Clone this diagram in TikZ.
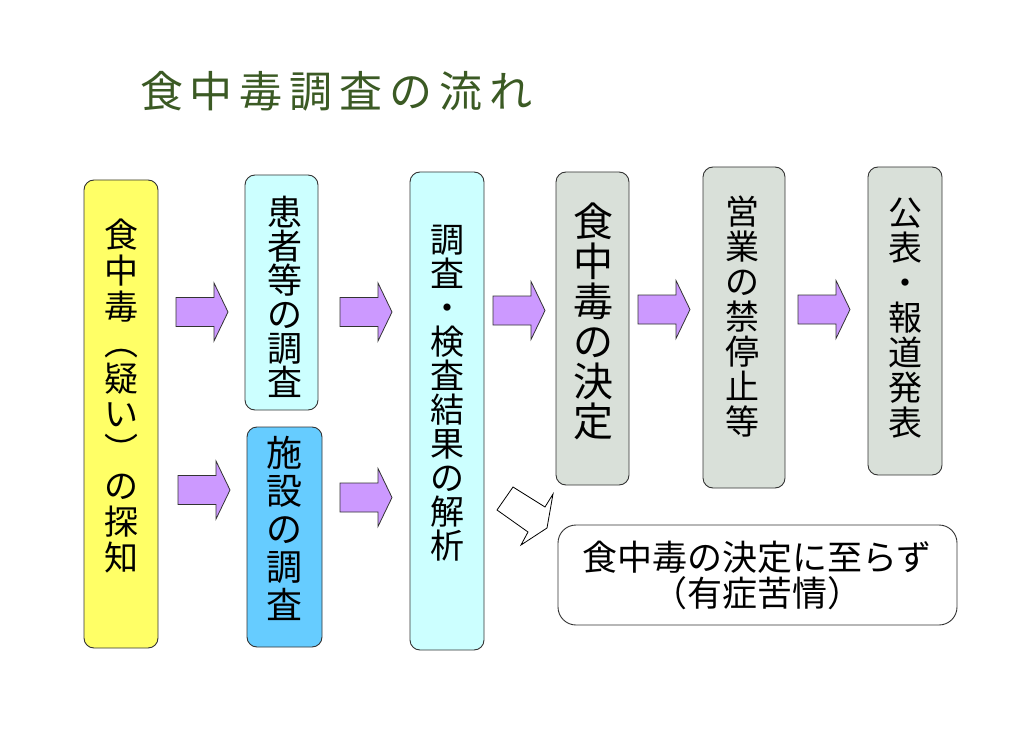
\documentclass[tikz,border=0pt]{standalone}
\usepackage{fontspec}
\newfontfamily\jp{Noto Sans CJK JP}
\definecolor{yel}{HTML}{FFFF66}
\definecolor{lcyan}{HTML}{CCFFFF}
\definecolor{mblue}{HTML}{66CCFF}
\definecolor{lgray}{HTML}{D9E0D9}
\definecolor{arrowfill}{HTML}{CC99FF}
\definecolor{titlegreen}{HTML}{3B5A24}
\newcommand\blockarrow[2]{%
  \draw[parrow] (#1,#2) ++(0,-14.5) -- ++(38,0) -- ++(0,-14.5) -- ++(14,29)
    -- ++(-14,29) -- ++(0,-14.5) -- ++(-38,0) -- cycle;}
\begin{document}
\begin{tikzpicture}[x=1pt,y=-1pt,
  box/.style={draw=black!80, line width=0.9pt, rounded corners=10pt, inner sep=0pt},
  vt/.style 2 args={align=center, inner sep=0pt, font=\jp\fontsize{#1}{#2}\selectfont},
  parrow/.style={draw=black!80, line width=0.8pt, fill=arrowfill, line join=miter},
  hollow/.style={draw=black, line width=0.8pt, fill=white, line join=miter}]
\useasboundingbox[fill=white] (0,0) rectangle (1030,730);

% title
\node[text=titlegreen, inner sep=0pt, font=\jp\fontsize{43}{43}\selectfont] (title) at (336.5,91)
  {食\hspace{7pt}中\hspace{7pt}毒\hspace{7pt}調\hspace{7pt}査\hspace{7pt}の\hspace{7pt}流\hspace{7pt}れ};

% boxes
\node[box, fill=yel,   minimum width=74pt, minimum height=468pt] (b1) at (121,414) {};
\node[box, fill=lcyan, minimum width=73pt, minimum height=235pt] (b2) at (281.5,292.5) {};
\node[box, fill=mblue, minimum width=75pt, minimum height=220pt] (b3) at (284.5,537) {};
\node[box, fill=lcyan, minimum width=74pt, minimum height=478pt] (b4) at (447,411) {};
\node[box, fill=lgray, minimum width=73pt, minimum height=313pt] (b5) at (592.5,328.5) {};
\node[box, fill=lgray, minimum width=82pt, minimum height=321pt] (b6) at (744,327.5) {};
\node[box, fill=lgray, minimum width=74pt, minimum height=308pt] (b7) at (905,321) {};
\node[box, fill=white, rounded corners=18pt, minimum width=399pt, minimum height=100pt] (b8) at (757.5,575) {};

% texts
\node[vt={34}{35.8}] (t1) at (121,396) {食\\中\\毒\\︵\\疑\\い\\︶\\の\\探\\知};
\node[vt={35}{34}] (t2) at (284.5,296.5) {患\\者\\等\\の\\調\\査};
\node[vt={36}{38}] (t3) at (284.5,528) {施\\設\\の\\調\\査};
\node[vt={34}{34}] (t4) at (447,393) {調\\査\\・\\検\\査\\結\\果\\の\\解\\析};
\node[vt={40}{40}] (t5) at (593,321) {食\\中\\毒\\の\\決\\定};
\node[vt={34}{35}] (t6) at (742,316.5) {営\\業\\の\\禁\\停\\止\\等};
\node[vt={34}{35}] (t7) at (905,318.5) {公\\表\\・\\報\\道\\発\\表};
\node[vt={35}{36}] (t8) at (757,575) {食中毒の決定に至らず\\（有症苦情）};

% block arrows
\blockarrow{176}{312}
\blockarrow{178}{490}
\blockarrow{340}{312}
\blockarrow{340}{497.5}
\blockarrow{493}{310.5}
\blockarrow{638}{309.5}
\blockarrow{798}{309.5}

% hollow arrow
\draw[hollow] (497,510) -- (513,487) -- (545,507) -- (553,494) -- (547,528) -- (521,545) -- (528,532) -- cycle;
\end{tikzpicture}
\end{document}
